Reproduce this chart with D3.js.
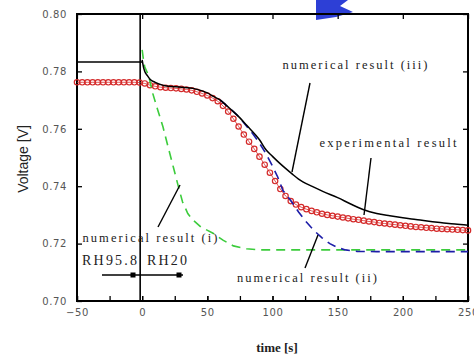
<!DOCTYPE html>
<html>
<head>
<meta charset="utf-8">
<script src="https://cdn.jsdelivr.net/npm/d3@7"></script>
<style>
  body { margin: 0; background: #fff; }
  svg { display: block; }
</style>
</head>
<body>
<svg id="chart" width="474" height="357"></svg>
<script>
// experimental result (red circles), sampled every 4 s
const expStart = -50, expStep = 4;
const expVolt = [
  0.7762, 0.7762, 0.7762, 0.7762, 0.7762, 0.7762, 0.7762, 0.7762, 0.7762, 0.7762,
  0.7762, 0.7762, 0.7761, 0.7758, 0.7752, 0.7748, 0.7745, 0.7743, 0.7742, 0.7741,
  0.7739, 0.7737, 0.7734, 0.7729, 0.7723, 0.7716, 0.7707, 0.7696, 0.7680, 0.7660,
  0.7635, 0.7608, 0.7580, 0.7555, 0.7530, 0.7503, 0.7475, 0.7447, 0.7418, 0.7390,
  0.7366, 0.7348, 0.7336, 0.7327, 0.7320, 0.7314, 0.7309, 0.7304, 0.7300, 0.7297,
  0.7294, 0.7291, 0.7288, 0.7285, 0.7283, 0.7280, 0.7277, 0.7275, 0.7272, 0.7270,
  0.7268, 0.7266, 0.7264, 0.7262, 0.7260, 0.7258, 0.7257, 0.7255, 0.7254, 0.7252,
  0.7251, 0.7250, 0.7249, 0.7248, 0.7247, 0.7246
];

// numerical result (iii) - black
const num3Time = [0, 1, 2, 4, 6, 10, 15, 20, 30, 40, 50, 55, 60, 65, 70, 75, 80, 90, 95, 100,
  105, 110, 115, 120, 130, 139, 150, 160, 170, 180, 190, 200, 210, 220, 230, 240, 250];
const num3Volt = [0.7840, 0.7815, 0.7800, 0.7785, 0.7773, 0.7762, 0.7753, 0.7748, 0.7745, 0.7740,
  0.7725, 0.7712, 0.7700, 0.7680, 0.7660, 0.7638, 0.7613, 0.7562, 0.7527, 0.7504,
  0.7482, 0.7462, 0.7443, 0.7425, 0.7400, 0.7381, 0.7360, 0.7338, 0.7318, 0.7305,
  0.7297, 0.7290, 0.7284, 0.7278, 0.7273, 0.7268, 0.7264];
// level before switching (t < 0)
const num3Initial = 0.7833;

// numerical result (ii) - blue dashed
const num2Time = [60, 65, 70, 75, 80, 85, 90, 95, 100, 104, 108, 114, 120, 126, 132, 138, 144,
  150, 156, 165, 180, 250];
const num2Volt = [0.7700, 0.7680, 0.7660, 0.7638, 0.7610, 0.7582, 0.7550, 0.7513, 0.7470, 0.7432,
  0.7385, 0.7350, 0.7310, 0.7275, 0.7245, 0.7220, 0.7200, 0.7186, 0.7178, 0.7173, 0.7172, 0.7172];

// numerical result (i) - green dashed
const num1Time = [0, 1, 2, 3.5, 5, 8, 12, 16, 20, 24, 28, 31, 35, 39, 45, 54, 62, 70, 80, 90, 250];
const num1Volt = [0.7875, 0.7840, 0.7815, 0.7800, 0.7785, 0.7725, 0.7665, 0.7606, 0.7535, 0.7465,
  0.7395, 0.7345, 0.7305, 0.7282, 0.7258, 0.7237, 0.7212, 0.7192, 0.7182, 0.7178, 0.7178];

const xTicks = [-50, 0, 50, 100, 150, 200, 250];
const xMinorTicks = [-50, -25, 0, 25, 50, 75, 100, 125, 150, 175, 200, 225, 250];
const yTicks = [0.70, 0.72, 0.74, 0.76, 0.78, 0.80];

const svg = d3.select("#chart");
const x = d3.scaleLinear().domain([-50, 250]).range([77, 468]);
const y = d3.scaleLinear().domain([0.70, 0.80]).range([301, 14]);

const expData = expVolt.map((v, i) => [expStart + i * expStep, v]);
const line = d3.line().x(d => x(d[0])).y(d => y(d[1]));
const zip = (ts, vs) => ts.map((t, i) => [t, vs[i]]);

// blue arrow shape poking in at the top
svg.append("polygon")
  .attr("points", "316,0 348,0 340,6 353,12 336,17 316,20")
  .attr("fill", "#2d3fd6");

// axes (inward ticks)
const tickFont = g => g.selectAll("text")
  .attr("font-family", "DejaVu Sans").attr("font-size", 10)
  .attr("fill", "#555").attr("letter-spacing", 0.6);

svg.append("g").attr("transform", "translate(0,301)")
  .call(d3.axisBottom(x).tickValues(xMinorTicks).tickSize(-5).tickFormat(""))
  .call(g => g.select(".domain").remove());
svg.append("g").attr("transform", "translate(0,301)")
  .call(d3.axisBottom(x).tickValues(xTicks).tickSize(-5).tickPadding(8).tickFormat(d3.format("d")))
  .call(g => g.select(".domain").remove())
  .call(tickFont);
svg.append("g").attr("transform", "translate(0,14)")
  .call(d3.axisTop(x).tickValues(xTicks).tickSize(-5).tickFormat(""))
  .call(g => g.select(".domain").remove());
svg.append("g").attr("transform", "translate(77,0)")
  .call(d3.axisLeft(y).tickValues(yTicks).tickSize(-5).tickPadding(10).tickFormat(d3.format(".2f")))
  .call(g => g.select(".domain").remove())
  .call(tickFont);
svg.append("g").attr("transform", "translate(468,0)")
  .call(d3.axisRight(y).tickValues(yTicks).tickSize(-5).tickFormat(""))
  .call(g => g.select(".domain").remove());
svg.selectAll(".tick line").attr("stroke", "#000").attr("stroke-width", 1.3);

// frame
svg.append("rect")
  .attr("x", x(-50)).attr("y", y(0.80))
  .attr("width", x(250) - x(-50)).attr("height", y(0.70) - y(0.80))
  .attr("fill", "none").attr("stroke", "#000").attr("stroke-width", 2);

// humidity switch at t = 0
svg.append("line")
  .attr("x1", x(0) - 2).attr("x2", x(0) - 2)
  .attr("y1", y(0.80)).attr("y2", y(0.70))
  .attr("stroke", "#000").attr("stroke-width", 1.6);

// experimental result
svg.append("path").datum(expData)
  .attr("d", line).attr("fill", "none")
  .attr("stroke", "#d42a2a").attr("stroke-width", 0.8);
svg.append("g").selectAll("circle").data(expData).join("circle")
  .attr("cx", d => x(d[0])).attr("cy", d => y(d[1])).attr("r", 2.7)
  .attr("fill", "none").attr("stroke", "#d42a2a").attr("stroke-width", 1.2);

// numerical (i)
svg.append("path").datum(zip(num1Time, num1Volt))
  .attr("d", line).attr("fill", "none")
  .attr("stroke", "#3ccc3c").attr("stroke-width", 1.6).attr("stroke-dasharray", "9,6");

// numerical (ii)
svg.append("path").datum(zip(num2Time, num2Volt))
  .attr("d", line).attr("fill", "none")
  .attr("stroke", "#1c1ca8").attr("stroke-width", 1.6).attr("stroke-dasharray", "9,6");

// numerical (iii)
svg.append("path").datum([[-50, num3Initial], [0, num3Initial]])
  .attr("d", line).attr("fill", "none")
  .attr("stroke", "#000").attr("stroke-width", 1.6);
svg.append("path").datum(zip(num3Time, num3Volt))
  .attr("d", d3.line().x(d => x(d[0])).y(d => y(d[1])).curve(d3.curveMonotoneX))
  .attr("fill", "none").attr("stroke", "#000").attr("stroke-width", 1.5);

// annotations
const notes = [
  { text: "numerical result (iii)", x: 355, y: 69, w: 145, lead: [310, 83, 292, 172] },
  { text: "experimental result", x: 388, y: 147, w: 137, lead: [371, 158, 364, 215] },
  { text: "numerical result (ii)", x: 307, y: 282, w: 140, lead: [318, 235, 305, 268] },
  { text: "numerical result (i)", x: 150, y: 242, w: 135, lead: [180, 185, 158, 227] }
];
notes.forEach(n => {
  svg.append("line")
    .attr("x1", n.lead[0]).attr("y1", n.lead[1]).attr("x2", n.lead[2]).attr("y2", n.lead[3])
    .attr("stroke", "#000").attr("stroke-width", 1.4);
  svg.append("text")
    .attr("x", n.x - n.w / 2).attr("y", n.y)
    .attr("textLength", n.w).attr("lengthAdjust", "spacing")
    .attr("font-family", "Liberation Serif").attr("font-size", 12.5)
    .attr("fill", "#222").text(n.text);
});

// RH labels and arrow
svg.append("text").attr("x", 82).attr("y", 265)
  .attr("textLength", 55).attr("lengthAdjust", "spacing")
  .attr("font-family", "Liberation Serif").attr("font-size", 14).attr("fill", "#222")
  .text("RH95.8");
svg.append("text").attr("x", 147).attr("y", 265)
  .attr("textLength", 40).attr("lengthAdjust", "spacing")
  .attr("font-family", "Liberation Serif").attr("font-size", 14).attr("fill", "#222")
  .text("RH20");
svg.append("line").attr("x1", 102).attr("x2", 183).attr("y1", 275).attr("y2", 275)
  .attr("stroke", "#000").attr("stroke-width", 1.4);
[133, 179].forEach(px => {
  svg.append("rect").attr("x", px - 2.5).attr("y", 272.5).attr("width", 5).attr("height", 5)
    .attr("fill", "#000");
});

// axis titles
svg.append("text").attr("x", 277).attr("y", 352).attr("text-anchor", "middle")
  .attr("font-family", "Liberation Serif").attr("font-size", 13).attr("font-weight", "bold")
  .attr("fill", "#222").text("time [s]");
svg.append("text")
  .attr("transform", "translate(28,159) rotate(-90)")
  .attr("text-anchor", "middle")
  .attr("font-family", "Liberation Sans").attr("font-size", 14).attr("fill", "#222")
  .text("Voltage [V]");
</script>
</body>
</html>
